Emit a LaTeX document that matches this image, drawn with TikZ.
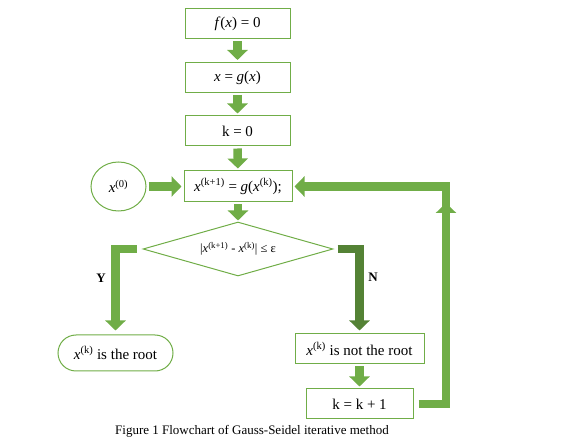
\documentclass[tikz,border=0pt]{standalone}
\usepackage{fontspec}
\setmainfont{Liberation Serif}
\usetikzlibrary{shapes.geometric,arrows.meta}
\definecolor{boxgreen}{HTML}{70AD47}
\definecolor{nogreen}{HTML}{548235}
\newcommand{\xsup}[1]{\textit{x}\textsuperscript{(#1)}}

\begin{document}
\begin{tikzpicture}
			[x=1pt,y=-1pt,
			box/.style={rectangle,draw=boxgreen,line width=1pt,inner sep=0pt,
				minimum width=105pt,minimum height=30pt,font=\fontsize{15}{18}\selectfont},
			test/.style={diamond,aspect=3.5,draw=boxgreen,line width=1pt,inner sep=0pt,
				minimum width=190pt,minimum height=54pt,font=\fontsize{12.5}{14}\selectfont},
			start/.style={ellipse,draw=boxgreen,line width=1pt,inner sep=0pt,
				minimum width=55pt,minimum height=49pt,font=\fontsize{15}{18}\selectfont},
			stop/.style={box,rounded corners=18pt,minimum width=115pt,minimum height=36pt},
			flow/.style={boxgreen,line width=8.5pt,line join=miter,shorten <=2pt,shorten >=2pt,
				-{Triangle[width=20pt,length=10pt]}},
			lab/.style={font=\fontsize{13}{15}\selectfont\bfseries}]
			\useasboundingbox (0,0) rectangle (576,446);
			\path node (fx)      at (237.5,24)    [box]  {\textit{f}(\textit{x}) = 0}
				  node (gx)      at (237.5,77.5)  [box]  {\textit{x} = \textit{g}(\textit{x})}
				  node (k0)      at (237.5,131)   [box]  {k = 0}
				  node (iter)    at (238,186.5)   [box,minimum width=108pt,minimum height=31pt]
				                                         {\xsup{k+1} = \textit{g}(\xsup{k});}
				  node (x0)      at (118.5,186.5) [start] {\xsup{0}}
				  node (dia)     at (238,249)     [test] {|\xsup{k+1} - \xsup{k}| ≤ ε}
				  node (root)    at (115.5,353)   [stop] {\xsup{k} is the root}
				  node (notroot) at (359.5,349)   [box,minimum width=129pt] {\xsup{k} is not the root}
				  node (kinc)    at (359.5,404)   [box,minimum width=107pt] {k = k + 1}
				  node (ylab)    at (101,278)     [lab]  {Y}
				  node (nlab)    at (373,277)     [lab]  {N}
				  node (cap)     at (252,431)     [font=\fontsize{13}{15}\selectfont]
				                                         {Figure 1 Flowchart of Gauss-Seidel iterative method};
			\coordinate (up) at (446,203);
			% main line
			\draw[flow] (fx) -- (gx);
			\draw[flow] (gx) -- (k0);
			\draw[flow] (k0) -- (iter);
			\draw[flow] (x0) -- (iter);
			\draw[flow,shorten >=1pt] (iter) -- (dia);
			% yes / no
			\draw[flow,shorten <=6pt,shorten >=4pt] (dia.west) -| (root.north);
			\draw[flow,nogreen,shorten <=4pt,shorten >=3pt] (dia.east) -| (notroot.north);
			\draw[flow] (notroot) -- (kinc);
			% back to the iteration
			\draw[flow,shorten <=5pt,shorten >=0pt] (kinc.east) -| (up);
			\draw[flow,shorten <=0pt] ([yshift=-10pt]up) |- (iter.east);
		\end{tikzpicture}
\end{document}
